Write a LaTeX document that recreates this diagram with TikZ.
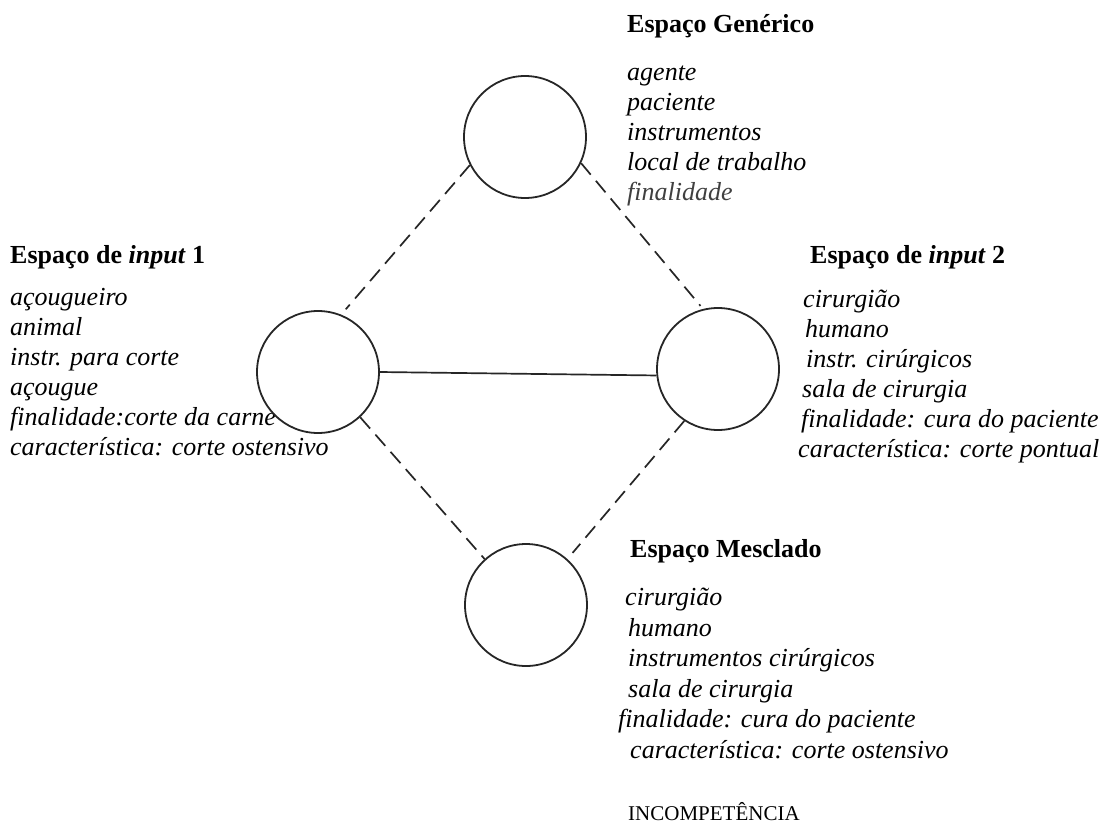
\documentclass[tikz,border=0pt]{standalone}
\usepackage{fontspec}
\setmainfont{Liberation Serif}
\begin{document}
\begin{tikzpicture}[x=1pt,y=-1pt,
  space/.style={circle, draw=black!85, line width=1.8pt, minimum size=122pt, inner sep=0pt, fill=white, fill opacity=0.55},
  ttl/.style={anchor=base west, inner sep=0pt, font=\fontsize{26}{30}\selectfont\bfseries},
  itm/.style={anchor=base west, inner sep=0pt, font=\fontsize{26}{30}\selectfont\itshape},
  captext/.style={anchor=base west, inner sep=0pt, font=\fontsize{21}{24}\selectfont},
  dashline/.style={line width=1.7pt, draw=black!85, dash pattern=on 15pt off 8pt},
  solidline/.style={line width=1.7pt, draw=black!85}]
\useasboundingbox (0,0) rectangle (1113,825);
\fill[white] (0,0) rectangle (1113,825);

% Generic space text
\node[ttl] (gt) at (627,32) {Espaço Genérico};
\node[itm] (g1) at (627,80) {agente};
\node[itm] (g2) at (627,110) {paciente};
\node[itm] (g3) at (627,140) {instrumentos};
\node[itm] (g4) at (627,170) {local de trabalho};
\node[itm, text=black!75] (g5) at (627,200) {finalidade};

% Input 1 text
\node[ttl] (at) at (10,263) {Espaço de \textit{input} 1};
\node[itm] (a1) at (10,305) {açougueiro};
\node[itm] (a2) at (10,335) {animal};
\node[itm] (a3) at (10,365) {instr. para corte};
\node[itm] (a4) at (10,395) {açougue};
\node[itm] (a5) at (10,425) {finalidade:corte da carne};
\node[itm] (a6) at (10,455) {característica: corte ostensivo};

% Input 2 text
\node[ttl] (bt) at (810,263) {Espaço de \textit{input} 2};
\node[itm] (b1) at (803,307) {cirurgião};
\node[itm] (b2) at (805,337) {humano};
\node[itm] (b3) at (806,367) {instr. cirúrgicos};
\node[itm] (b4) at (802,397) {sala de cirurgia};
\node[itm] (b5) at (801,427) {finalidade: cura do paciente};
\node[itm] (b6) at (798,457) {característica: corte pontual};

% Blended text
\node[ttl] (mt) at (630,557) {Espaço Mesclado};
\node[itm] (m1) at (625,605) {cirurgião};
\node[itm] (m2) at (628,636) {humano};
\node[itm] (m3) at (628,666) {instrumentos cirúrgicos};
\node[itm] (m4) at (628,697) {sala de cirurgia};
\node[itm] (m5) at (618,727) {finalidade: cura do paciente};
\node[itm] (m6) at (630,758) {característica: corte ostensivo};
\node[captext] (m7) at (628,820) {INCOMPETÊNCIA};

% Circles
\node[space] (gen) at (525,137) {};
\node[space] (in1) at (318,372) {};
\node[space] (in2) at (718,369) {};
\node[space] (bl) at (526,605) {};

% Connectors
\draw[dashline, shorten >=7pt] (gen.207) -- (in1.68);
\draw[dashline, shorten >=4pt] (gen.335) -- (in2.104);
\draw[dashline] (in1.313) -- (bl.132);
\draw[dashline, shorten >=8pt] (in2.237) -- (bl.48);
\draw[solidline] (in1.east) -- (in2.186);
\end{tikzpicture}
\end{document}
